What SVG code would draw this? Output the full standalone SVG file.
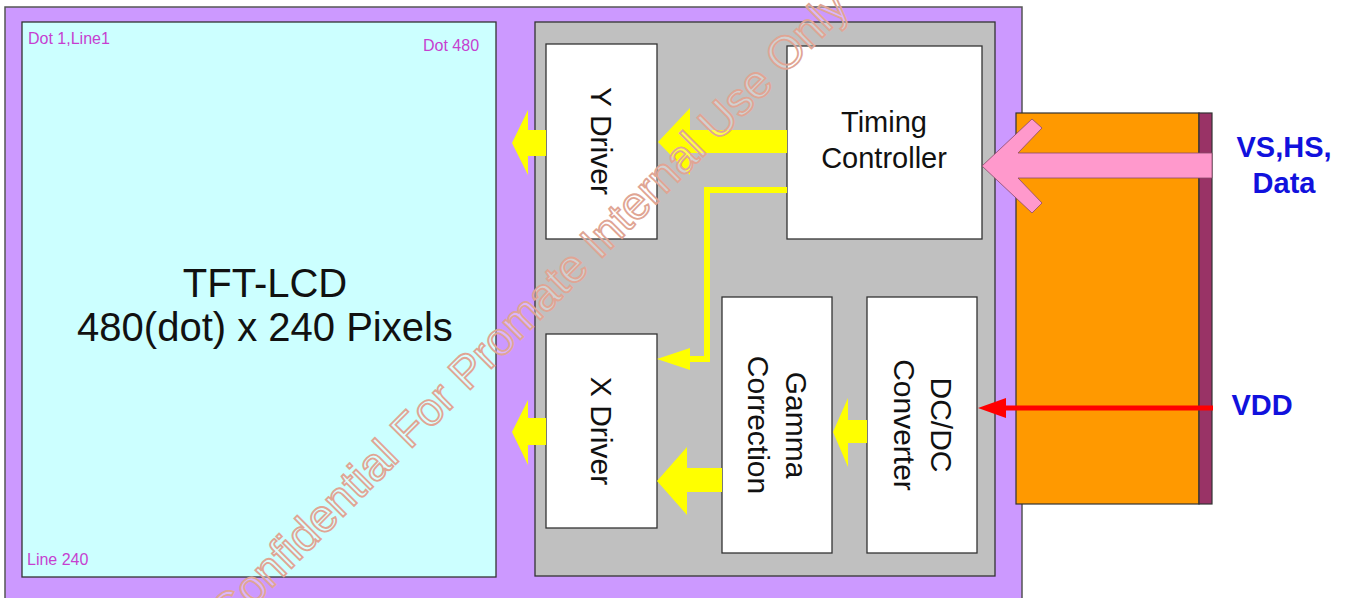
<svg xmlns="http://www.w3.org/2000/svg" width="1350" height="598" viewBox="0 0 1350 598">
<style>
.box{fill:#ffffff;stroke:#333333;stroke-width:1.3}
.lbl{font-family:"Liberation Sans",Arial,sans-serif;fill:#111111;text-anchor:middle}
.mag{font-family:"Liberation Sans",Arial,sans-serif;fill:#c63fd0;font-size:16px}
.blue{font-family:"Liberation Sans",Arial,sans-serif;fill:#1111dd;font-size:29px;font-weight:bold;text-anchor:middle}
.yel{fill:#ffff00;stroke:none}
.wm{font-family:"Liberation Sans",Arial,sans-serif;font-size:46px;fill:#ffffff;fill-opacity:0.3;stroke:#e0a594;stroke-width:1.8}
</style>
<rect width="1350" height="598" fill="#ffffff"/>
<g id="frame">
<rect x="5" y="7" width="1017" height="600" fill="#cc99ff" stroke="#555555" stroke-width="1.5"/>
</g>
<g id="lcd">
<rect x="22" y="22" width="474" height="555" fill="#ccffff" stroke="#333333" stroke-width="1.3"/>
<text class="mag" x="28" y="44">Dot 1,Line1</text>
<text class="mag" x="423" y="51">Dot 480</text>
<text class="mag" x="27" y="565">Line 240</text>
<text class="lbl" x="265" y="297" font-size="40">TFT-LCD</text>
<text class="lbl" x="265" y="341" font-size="40">480(dot) x 240 Pixels</text>
</g>
<g id="controller-board">
<rect x="535" y="22" width="460" height="554" fill="#c0c0c0" stroke="#333333" stroke-width="1.3"/>
</g>
<g id="y-driver">
<rect class="box" x="546" y="44" width="111" height="195"/>
<text class="lbl" font-size="30" transform="translate(591,141) rotate(90)">Y Driver</text>
</g>
<g id="timing-controller">
<rect class="box" x="787" y="46" width="195" height="193"/>
<text class="lbl" font-size="29" x="884" y="132">Timing</text>
<text class="lbl" font-size="29" x="884" y="168">Controller</text>
</g>
<g id="x-driver">
<rect class="box" x="546" y="334" width="111" height="194"/>
<text class="lbl" font-size="30" transform="translate(591,431) rotate(90)">X Driver</text>
</g>
<g id="gamma-correction">
<rect class="box" x="722" y="297" width="110" height="256"/>
<text class="lbl" font-size="30" transform="translate(786,425) rotate(90)">Gamma</text>
<text class="lbl" font-size="30" transform="translate(748,425) rotate(90)">Correction</text>
</g>
<g id="dcdc-converter">
<rect class="box" x="867" y="297" width="110" height="256"/>
<text class="lbl" font-size="30" transform="translate(931,425) rotate(90)">DC/DC</text>
<text class="lbl" font-size="30" transform="translate(894,425) rotate(90)">Converter</text>
</g>
<g id="interface">
<rect x="1016" y="113" width="183" height="391" fill="#ff9900" stroke="#333333" stroke-width="1.2"/>
<rect x="1199" y="113" width="13" height="391" fill="#993366" stroke="#333333" stroke-width="1.2"/>
<text class="blue" x="1284" y="157">VS,HS,</text>
<text class="blue" x="1284" y="193">Data</text>
<text class="blue" x="1262" y="415">VDD</text>
</g>
<g id="connectors">
<polygon class="yel" points="546,130 528,130 528,110 512,143 528,175 528,156 546,156"/>
<polygon class="yel" points="546,418 528,418 528,400 512,432 528,465 528,445 546,445"/>
<polygon class="yel" points="787,130 690,130 690,108 658,142 690,175 690,153 787,153"/>
<polyline points="787,190 707,190 707,359 688,359" fill="none" stroke="#ffff00" stroke-width="6"/>
<polygon class="yel" points="657,359 690,348 690,370"/>
<polygon class="yel" points="722,468 687,468 687,447 657,481 687,515 687,492 722,492"/>
<polygon class="yel" points="867,420 848,420 848,398 833,432 848,467 848,443 867,443"/>
<polygon points="982,166 1032,119 1042,128 1018,153 1212,153 1212,178 1018,178 1042,203 1032,213" fill="#ff99cc" stroke="#8a4a6a" stroke-width="0.8"/>
<line x1="1213" y1="408" x2="1000" y2="408" stroke="#ff0000" stroke-width="5"/>
<polygon points="978,408 1006,398 1006,418" fill="#ff0000"/>
</g>
<g id="watermark">
<text class="wm" transform="translate(229,631) rotate(-45)">Confidential For Promate Internal Use Only</text>
</g>
</svg>
